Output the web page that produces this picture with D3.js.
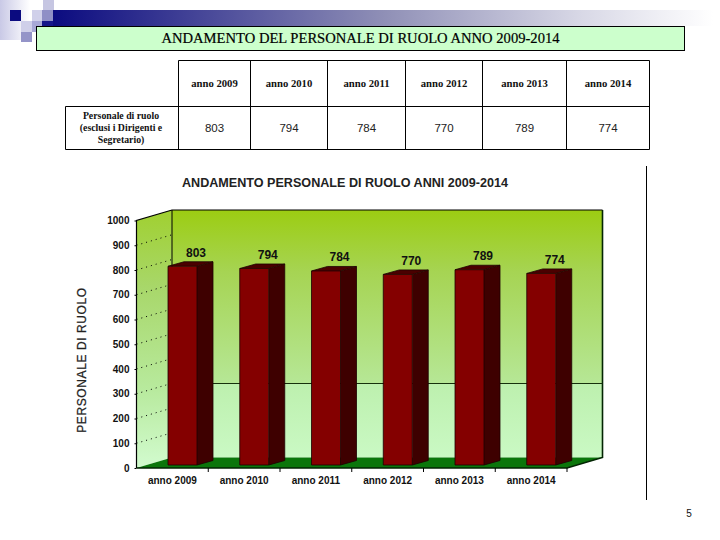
<!DOCTYPE html>
<html><head><meta charset="utf-8">
<style>html,body{margin:0;padding:0;background:#fff}svg{display:block}</style>
<script src="https://cdnjs.cloudflare.com/ajax/libs/d3/7.8.5/d3.min.js"></script>
</head><body><svg id="c" width="720" height="540"></svg>
<script>
const categories = ["anno 2009","anno 2010","anno 2011","anno 2012","anno 2013","anno 2014"];
const values = [803,794,784,770,789,774];
const yTicks = [0,100,200,300,400,500,600,700,800,900,1000];
const pageTitle = "ANDAMENTO DEL PERSONALE DI RUOLO ANNO 2009-2014";
const chartTitle = "ANDAMENTO PERSONALE DI RUOLO ANNI 2009-2014";
const yTitle = "PERSONALE DI RUOLO";
const rowLabel = ["Personale di ruolo","(esclusi i Dirigenti e","Segretario)"];

const svg = d3.select("#c"), defs = svg.append("defs");
const SERIF = "'Liberation Serif',serif", SANS = "'Liberation Sans',Arial,sans-serif";
function grad(id,stops,vert=true){
  const g = defs.append("linearGradient").attr("id",id).attr("x1",0).attr("y1",0)
    .attr("x2",vert?0:1).attr("y2",vert?1:0);
  stops.forEach(s=>g.append("stop").attr("offset",s[0]).attr("stop-color",s[1]));
}
// slide decoration
grad("band",[[0,"#0b0b80"],[.5,"#8f8fb6"],[.8,"#d8d8e6"],[1,"#ffffff"]],false);
grad("fade",[[0,"#c9c9e6"],[1,"#ffffff"]],false);
svg.append("rect").attr("x",0).attr("y",0).attr("width",30).attr("height",40).attr("fill","url(#fade)");
svg.append("rect").attr("x",53).attr("y",10).attr("width",660).attr("height",16).attr("fill","url(#band)");
[[43,0,11,10,"#c6c6e2"],[42,10,11,11,"#8f8fc6"],[32,10,10,11,"#d0d0ea"],[10,10,11,11,"#0b0b80"],
 [21,21,11,11,"#cfcfe9"],[32,21,10,11,"#a8a8d6"],[42,21,11,5,"#15158a"],[21,32,11,10,"#9494c8"]]
 .forEach(r=>svg.append("rect").attr("x",r[0]).attr("y",r[1]).attr("width",r[2]).attr("height",r[3]).attr("fill",r[4]));

// title box
svg.append("rect").attr("x",36.5).attr("y",26.5).attr("width",648).attr("height",24)
  .attr("fill","#ccffcc").attr("stroke","#000");
svg.append("text").attr("x",360.5).attr("y",43).attr("text-anchor","middle")
  .attr("font-family",SERIF).attr("font-size",14.6).attr("fill","#000").attr("stroke","#000").attr("stroke-width",.2).text(pageTitle);

// table
const colX = [178.5,250.5,327.5,405.5,482.5,566.5,649.5];
const tbl = svg.append("g").attr("stroke","#000").attr("fill","none");
tbl.append("path").attr("d",`M178.5 60.5H649.5V149.5H65.5V106.5H649.5`);
colX.slice(0,-1).forEach(x=>tbl.append("line").attr("x1",x).attr("x2",x).attr("y1",60.5).attr("y2",149.5));
categories.forEach((c,i)=>{
  const cx=(colX[i]+colX[i+1])/2;
  svg.append("text").attr("x",cx).attr("y",87).attr("text-anchor","middle")
    .attr("font-family",SERIF).attr("font-size",10.7).attr("font-weight","bold").attr("fill","#111").text(c);
  svg.append("text").attr("x",cx).attr("y",132).attr("text-anchor","middle")
    .attr("font-family",SANS).attr("font-size",11.5).attr("fill","#222").text(values[i]);
});
rowLabel.forEach((t,i)=>svg.append("text").attr("x",121).attr("y",119+i*12).attr("text-anchor","middle")
  .attr("font-family",SERIF).attr("font-size",9.8).attr("font-weight","bold").attr("fill","#111").text(t));

// right rule
svg.append("line").attr("x1",646.5).attr("x2",646.5).attr("y1",166).attr("y2",500).attr("stroke","#000");
svg.append("text").attr("x",689).attr("y",517).attr("text-anchor","middle")
  .attr("font-family",SANS).attr("font-size",10).attr("fill","#111").text("5");

// chart
svg.append("text").attr("x",345).attr("y",187).attr("text-anchor","middle")
  .attr("font-family",SANS).attr("font-size",12.6).attr("font-weight","bold").attr("fill","#222").text(chartTitle);

const front={l:136.5,r:567}, depth={x:35.5,y:10.5};
const y = d3.scaleLinear().domain([0,1000]).range([468,220.5]);
const x = d3.scaleBand().domain(categories).range([front.l,front.r]);
const barW=29, sideW=16, sideH=4.5, barLead=31.5, baseLift=3;

grad("wall",[[0,"#9ccd12"],[.25,"#a6d453"],[.7,"#b6e796"],[.701,"#bdf0ae"],[1,"#caf9c4"]]);
grad("side",[[0,"#a0d030"],[.3,"#a8d76a"],[.7,"#b8ea9e"],[1,"#d2fbcf"]]);
const g = svg.append("g");
const yTop = y(1000), yBot = y(0);
g.append("polygon").attr("points",[[front.l,yTop],[front.l+depth.x,yTop-depth.y],[front.l+depth.x,yBot-depth.y],[front.l,yBot]].join(" "))
  .attr("fill","url(#side)");
g.append("rect").attr("x",front.l+depth.x).attr("y",yTop-depth.y).attr("width",front.r-front.l).attr("height",yBot-yTop)
  .attr("fill","url(#wall)");
g.append("polygon").attr("points",[[front.l,yBot],[front.l+depth.x,yBot-depth.y],[front.r+depth.x,yBot-depth.y],[front.r,yBot]].join(" "))
  .attr("fill","#0b760b");
// outline
g.append("path").attr("fill","none").attr("stroke","#000").attr("stroke-width",1.2)
  .attr("d",`M${front.l} ${yBot}V${yTop}L${front.l+depth.x} ${yTop-depth.y}H${front.r+depth.x}`);
g.append("line").attr("x1",front.l+depth.x).attr("x2",front.l+depth.x).attr("y1",yTop-depth.y).attr("y2",yBot-depth.y).attr("stroke","#000");
g.append("path").attr("fill","none").attr("stroke","#032503").attr("stroke-width",1.6)
  .attr("d",`M${front.r+depth.x} ${yTop-depth.y}V${yBot-depth.y}L${front.r} ${yBot}H${front.l}`);
// gridlines on side wall
yTicks.slice(1,-1).forEach(t=>g.append("line")
  .attr("x1",front.l).attr("y1",y(t)).attr("x2",front.l+depth.x).attr("y2",y(t)-depth.y)
  .attr("stroke","#000").attr("stroke-dasharray","1 4"));
// reference line across back wall
g.append("line").attr("x1",front.l+depth.x).attr("x2",front.r+depth.x).attr("y1",383.5).attr("y2",383.5).attr("stroke","#16300c");

// bars
const bars = g.selectAll("g.bar").data(categories.map((c,i)=>({c,v:values[i]}))).join("g").attr("class","bar");
bars.each(function(d){
  const s=d3.select(this), bx=x(d.c)+barLead, ty=y(d.v)-baseLift, by=yBot-baseLift;
  s.append("polygon").attr("points",[[bx,ty],[bx+sideW,ty-sideH],[bx+barW+sideW,ty-sideH],[bx+barW,ty]].join(" ")).attr("fill","#4a0000");
  s.append("polygon").attr("points",[[bx+barW,ty],[bx+barW+sideW,ty-sideH],[bx+barW+sideW,by-sideH],[bx+barW,by]].join(" ")).attr("fill","#3e0000");
  s.append("rect").attr("x",bx).attr("y",ty).attr("width",barW).attr("height",by-ty).attr("fill","#840000");
  s.append("path").attr("fill","none").attr("stroke","#1c0000").attr("stroke-width",.8)
   .attr("d",`M${bx} ${ty}L${bx+sideW} ${ty-sideH}H${bx+barW+sideW}V${by-sideH}L${bx+barW} ${by}H${bx}V${ty}H${bx+barW}V${by}M${bx+barW} ${ty}L${bx+barW+sideW} ${ty-sideH}`);
  s.append("text").attr("x",bx+28).attr("y",ty-9.5).attr("text-anchor","middle")
   .attr("font-family",SANS).attr("font-size",12).attr("font-weight","bold").attr("fill","#111").text(d.v);
});

// axes
const yAxis = d3.axisLeft(y).tickValues(yTicks).tickFormat(d3.format("d")).tickSize(2).tickPadding(5);
const ya = svg.append("g").attr("transform",`translate(${front.l},0)`).call(yAxis);
ya.select(".domain").remove();
ya.selectAll("text").attr("font-family",SANS).attr("font-size",10).attr("font-weight","bold").attr("fill","#111");
const xAxis = d3.axisBottom(x).tickSize(0).tickPadding(9);
const xa = svg.append("g").attr("transform",`translate(0,${yBot})`).call(xAxis);
xa.select(".domain").remove();
xa.selectAll("text").attr("font-family",SANS).attr("font-size",10).attr("font-weight","bold").attr("fill","#111");
categories.forEach(c=>svg.append("line").attr("x1",x(c)+x.bandwidth()).attr("x2",x(c)+x.bandwidth()).attr("y1",yBot).attr("y2",yBot+4).attr("stroke","#000"));
svg.append("text").attr("transform","translate(86,360) rotate(-90)").attr("text-anchor","middle")
  .attr("font-family",SANS).attr("font-size",12).attr("stroke","#222").attr("stroke-width",.25).attr("letter-spacing",.6).attr("fill","#222").text(yTitle);
</script></body></html>
